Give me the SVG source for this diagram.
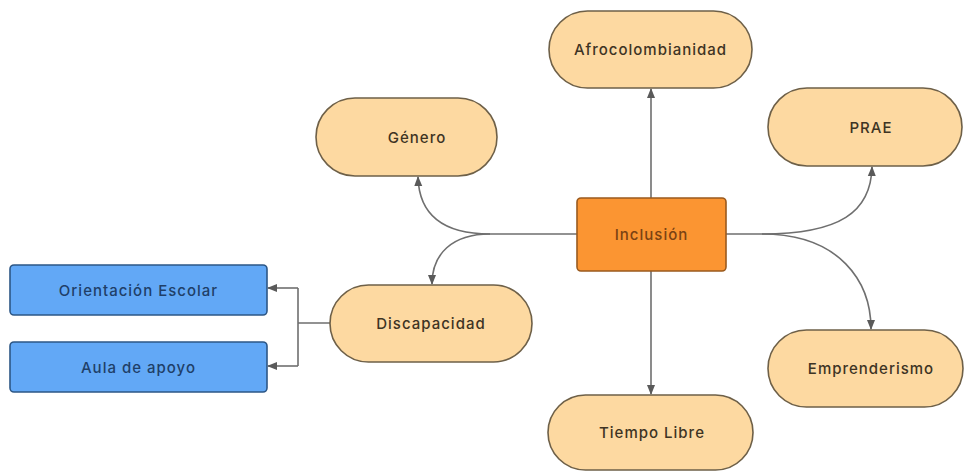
<svg xmlns="http://www.w3.org/2000/svg" width="966" height="473" viewBox="0 0 966 473">
<defs>
<style>
.pill{fill:#FDD9A1;stroke:#6E6048;stroke-width:1.6}
.core{fill:#FB9532;stroke:#9A5A1E;stroke-width:1.6}
.blue{fill:#62A8F6;stroke:#2D5786;stroke-width:1.6}
text{font-family:Inter,"Liberation Sans",sans-serif;font-size:15px;font-weight:500;text-anchor:middle;dominant-baseline:central;letter-spacing:1px}
.t1{fill:#3E3424}
.t2{fill:#7A4212}
.t3{fill:#1F3F68}
.c{fill:none;stroke:#6F6F6F;stroke-width:1.6}
</style>
<marker id="ah" markerUnits="userSpaceOnUse" markerWidth="10" markerHeight="10" viewBox="0 0 10 10" refX="9" refY="5" orient="auto">
<path d="M0,1 L10,5 L0,9 Z" fill="#5A5A5A"/>
</marker>
</defs>
<rect width="966" height="473" fill="#FFFFFF"/>
<g id="connectors">
<path class="c" d="M651,198 L651,89" marker-end="url(#ah)"/>
<path class="c" d="M651,271 L651,394" marker-end="url(#ah)"/>
<path class="c" d="M577,234 L490,234 C440,234 419,212 418,177" marker-end="url(#ah)"/>
<path class="c" d="M490,234 C452,234 432,254 432,284" marker-end="url(#ah)"/>
<path class="c" d="M726,234 L762,234 C840,234 871,212 872,167" marker-end="url(#ah)"/>
<path class="c" d="M762,234 C840,234 871,282 871,329" marker-end="url(#ah)"/>
<path class="c" d="M330,323 L298,323 M298,288 L298,366"/>
<path class="c" d="M298,288 L268,288" marker-end="url(#ah)"/>
<path class="c" d="M298,366 L268,366" marker-end="url(#ah)"/>
</g>
<g id="afro"><rect class="pill" x="549" y="11" width="203" height="77" rx="38.5"/><text class="t1" x="650.5" y="49.5">Afrocolombianidad</text></g>
<g id="genero"><rect class="pill" x="316" y="98" width="181" height="78" rx="39"/><text class="t1" x="417" y="137">Género</text></g>
<g id="prae"><rect class="pill" x="768" y="88" width="194" height="78" rx="39"/><text class="t1" x="871" y="127">PRAE</text></g>
<g id="inclusion"><rect class="core" x="577" y="198" width="149" height="73" rx="4"/><text class="t2" x="651.5" y="234.5">Inclusión</text></g>
<g id="orientacion"><rect class="blue" x="10" y="265" width="257" height="50" rx="4"/><text class="t3" x="138.5" y="290">Orientación Escolar</text></g>
<g id="aula"><rect class="blue" x="10" y="342" width="257" height="50" rx="4"/><text class="t3" x="138.5" y="367">Aula de apoyo</text></g>
<g id="discapacidad"><rect class="pill" x="330" y="285" width="202" height="77" rx="38.5"/><text class="t1" x="431" y="323.5">Discapacidad</text></g>
<g id="emprenderismo"><rect class="pill" x="768" y="330" width="195" height="77" rx="38.5"/><text class="t1" x="871" y="368.5">Emprenderismo</text></g>
<g id="tiempo"><rect class="pill" x="548" y="395" width="205" height="75" rx="37.5"/><text class="t1" x="652" y="432.5">Tiempo Libre</text></g>
</svg>
